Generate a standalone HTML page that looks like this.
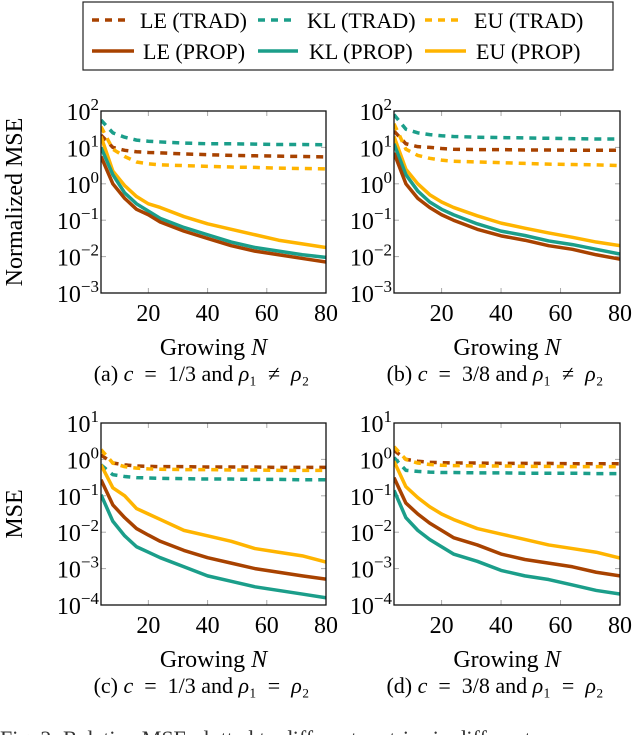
<!DOCTYPE html>
<html><head><meta charset="utf-8"><style>
body{margin:0;background:#fff;width:640px;height:735px;overflow:hidden}
svg{display:block;font-family:"Liberation Serif",serif}
</style></head><body>
<svg id="c" width="640" height="735">
<g>
<rect x="83" y="2" width="530" height="68" fill="#fff" stroke="#222" stroke-width="1.2"/>
<line x1="92" y1="20" x2="128" y2="20" stroke="#a84200" stroke-width="3.5" stroke-dasharray="7,6"/>
<text x="140" y="28" font-size="22">LE (TRAD)</text>
<line x1="258" y1="20" x2="296" y2="20" stroke="#1b9e8a" stroke-width="3.5" stroke-dasharray="7,6"/>
<text x="307" y="28" font-size="22">KL (TRAD)</text>
<line x1="425" y1="20" x2="463" y2="20" stroke="#ffb400" stroke-width="3.5" stroke-dasharray="7,6"/>
<text x="474" y="28" font-size="22">EU (TRAD)</text>
<line x1="92" y1="51" x2="134" y2="51" stroke="#a84200" stroke-width="3.5"/>
<text x="143" y="59" font-size="22">LE (PROP)</text>
<line x1="258" y1="51" x2="298" y2="51" stroke="#1b9e8a" stroke-width="3.5"/>
<text x="309" y="59" font-size="22">KL (PROP)</text>
<line x1="425" y1="51" x2="466" y2="51" stroke="#ffb400" stroke-width="3.5"/>
<text x="476" y="59" font-size="22">EU (PROP)</text>
</g>
<text x="0" y="746" font-size="22" fill="#333">Fig. 2: Relative MSE plotted to different metrics in different</text>
</svg>
<script>
const N=[4,8,12,16,20,24,32,40,48,56,64,72,80];
const xTicks=[20,40,60,80];
// log10 values per panel
const aLEt=[1.34,1.0,0.92,0.88,0.86,0.85,0.82,0.8,0.78,0.77,0.76,0.75,0.74];
const aKLt=[1.75,1.4,1.28,1.2,1.17,1.15,1.12,1.1,1.1,1.09,1.08,1.08,1.07];
const aEUt=[1.57,0.95,0.75,0.6,0.55,0.52,0.5,0.48,0.46,0.45,0.43,0.42,0.41];
const aLEp=[0.75,0.0,-0.4,-0.7,-0.85,-1.05,-1.3,-1.5,-1.7,-1.85,-1.95,-2.05,-2.15];
const aKLp=[1.0,0.25,-0.25,-0.55,-0.75,-0.95,-1.2,-1.4,-1.6,-1.75,-1.85,-1.95,-2.02];
const aEUp=[1.3,0.35,-0.05,-0.35,-0.55,-0.65,-0.9,-1.1,-1.25,-1.4,-1.55,-1.65,-1.75];
const bLEt=[1.45,1.1,1.02,1.0,0.97,0.95,0.94,0.94,0.93,0.93,0.92,0.92,0.92];
const bKLt=[1.9,1.5,1.4,1.35,1.32,1.3,1.28,1.27,1.26,1.25,1.24,1.23,1.23];
const bEUt=[1.65,0.95,0.78,0.7,0.65,0.62,0.6,0.58,0.56,0.54,0.53,0.52,0.5];
const bLEp=[0.85,0.0,-0.4,-0.65,-0.85,-1.0,-1.25,-1.43,-1.55,-1.7,-1.8,-1.95,-2.07];
const bKLp=[1.1,0.25,-0.2,-0.5,-0.7,-0.85,-1.1,-1.3,-1.42,-1.57,-1.67,-1.8,-1.93];
const bEUp=[1.3,0.4,0.0,-0.3,-0.5,-0.65,-0.88,-1.08,-1.22,-1.35,-1.47,-1.6,-1.7];
const cLEt=[0.12,-0.1,-0.15,-0.18,-0.19,-0.2,-0.2,-0.21,-0.21,-0.21,-0.22,-0.22,-0.22];
const cKLt=[-0.15,-0.42,-0.47,-0.5,-0.51,-0.52,-0.53,-0.54,-0.54,-0.55,-0.55,-0.56,-0.56];
const cEUt=[0.27,-0.1,-0.2,-0.24,-0.26,-0.27,-0.28,-0.28,-0.29,-0.29,-0.3,-0.3,-0.3];
const cLEp=[-0.56,-1.25,-1.6,-1.9,-2.08,-2.25,-2.5,-2.7,-2.85,-3.0,-3.1,-3.2,-3.29];
const cKLp=[-0.97,-1.7,-2.1,-2.4,-2.55,-2.7,-2.95,-3.2,-3.35,-3.5,-3.6,-3.7,-3.8];
const cEUp=[-0.15,-0.78,-1.0,-1.35,-1.5,-1.65,-1.95,-2.1,-2.25,-2.45,-2.55,-2.65,-2.82];
const dLEt=[0.25,0.0,-0.05,-0.08,-0.09,-0.1,-0.1,-0.11,-0.11,-0.11,-0.12,-0.12,-0.12];
const dKLt=[0.05,-0.3,-0.33,-0.35,-0.36,-0.36,-0.37,-0.37,-0.38,-0.38,-0.38,-0.39,-0.39];
const dEUt=[0.35,0.0,-0.1,-0.14,-0.16,-0.17,-0.18,-0.18,-0.19,-0.19,-0.2,-0.2,-0.2];
const dLEp=[-0.5,-1.2,-1.5,-1.75,-1.95,-2.15,-2.35,-2.6,-2.75,-2.85,-2.95,-3.1,-3.2];
const dKLp=[-0.85,-1.6,-1.95,-2.2,-2.4,-2.6,-2.8,-3.05,-3.2,-3.3,-3.45,-3.6,-3.7];
const dEUp=[-0.05,-0.75,-1.05,-1.3,-1.5,-1.65,-1.9,-2.05,-2.2,-2.35,-2.45,-2.55,-2.71];

const C={LE:"#a84200",KL:"#1b9e8a",EU:"#ffb400"};
const svg=document.getElementById('c');
const NS="http://www.w3.org/2000/svg";
function mk(tag,attrs,parent){const e=document.createElementNS(NS,tag);for(const k in attrs)e.setAttribute(k,attrs[k]);(parent||svg).appendChild(e);return e;}

function panel(id,x0,x1,y0,y1,ymax,ymin,series,ylabel,caption){
  const g=mk('g',{});
  
  
  const sx=n=>x0+(n-4)/(80-4)*(x1-x0);
  const sy=v=>y0+(ymax-v)/(ymax-ymin)*(y1-y0);
  const clip=mk('clipPath',{id:'cl'+id},g);
  mk('rect',{x:x0,y:y0,width:x1-x0,height:y1-y0},clip);
  for(let e=ymin;e<=ymax;e++){
    const y=sy(e);
    if(e>ymin&&e<ymax){
      mk('line',{x1:x0,y1:y,x2:x0+5,y2:y,stroke:'#aaa','stroke-width':1},g);
      mk('line',{x1:x1-5,y1:y,x2:x1,y2:y,stroke:'#aaa','stroke-width':1},g);
    }
    const t=mk('text',{x:x0-2,y:y+9,'font-size':24,'text-anchor':'end'},g);
    
    
    t.textContent='10';
    const s=mk('tspan',{dy:-10,'font-size':17},t);s.textContent=String(e).replace('-','\u2212');
  }
  xTicks.forEach(n=>{
    const x=sx(n);
    if(n<80){
      mk('line',{x1:x,y1:y1,x2:x,y2:y1-5,stroke:'#aaa','stroke-width':1},g);
      mk('line',{x1:x,y1:y0,x2:x,y2:y0+5,stroke:'#aaa','stroke-width':1},g);
    }
    const t=mk('text',{x:x,y:y1+28,'font-size':24,'text-anchor':'middle'},g);
    
    
    t.textContent=n;
  });
  const pg=mk('g',{'clip-path':'url(#cl'+id+')'},g);
  series.forEach(s=>{
    const p=mk('polyline',{points:N.map((n,i)=>sx(n)+','+sy(s.v[i])).join(' '),fill:'none',stroke:C[s.m],'stroke-width':3.5,'stroke-linejoin':'round','stroke-dasharray':s.d?'7,6':'none'},pg);
    
    
  });
  const fr=mk('rect',{x:x0,y:y0,width:x1-x0,height:y1-y0,fill:'none',stroke:'#111','stroke-width':1.3},g);
  
  
  const xl=mk('text',{x:(x0+x1)/2,y:y1+62,'font-size':24,'text-anchor':'middle'},g);
  
  
  xl.innerHTML='Growing <tspan font-style="italic">N</tspan>';
  const cp=mk('text',{x:(x0+x1)/2-12,y:y1+88,'font-size':22,'text-anchor':'middle'},g);
  
  
  cp.innerHTML=caption;
  if(ylabel){
    const yl=mk('text',{x:0,y:0,'font-size':24,'text-anchor':'middle',transform:'translate(22,'+((y0+y1)/2)+') rotate(-90)'},g);
    
    
    yl.textContent=ylabel;
  }
}
const it=s=>'<tspan font-style="italic">'+s+'</tspan>';
const sp='\u2002';
panel('a',101,326,111,293,2,-3,[{m:'LE',d:1,v:aLEt},{m:'KL',d:1,v:aKLt},{m:'EU',d:1,v:aEUt},{m:'EU',v:aEUp},{m:'KL',v:aKLp},{m:'LE',v:aLEp}],'Normalized MSE','(a) '+it('c')+sp+'='+sp+'1/3 and '+it('ρ')+'₁'+sp+'≠'+sp+it('ρ')+'₂');
panel('b',394,620,111,293,2,-3,[{m:'LE',d:1,v:bLEt},{m:'KL',d:1,v:bKLt},{m:'EU',d:1,v:bEUt},{m:'EU',v:bEUp},{m:'KL',v:bKLp},{m:'LE',v:bLEp}],null,'(b) '+it('c')+sp+'='+sp+'3/8 and '+it('ρ')+'₁'+sp+'≠'+sp+it('ρ')+'₂');
panel('c',101,326,423,605,1,-4,[{m:'KL',d:1,v:cKLt},{m:'LE',d:1,v:cLEt},{m:'EU',d:1,v:cEUt},{m:'EU',v:cEUp},{m:'LE',v:cLEp},{m:'KL',v:cKLp}],'MSE','(c) '+it('c')+sp+'='+sp+'1/3 and '+it('ρ')+'₁'+sp+'='+sp+it('ρ')+'₂');
panel('d',394,620,423,605,1,-4,[{m:'KL',d:1,v:dKLt},{m:'LE',d:1,v:dLEt},{m:'EU',d:1,v:dEUt},{m:'EU',v:dEUp},{m:'LE',v:dLEp},{m:'KL',v:dKLp}],null,'(d) '+it('c')+sp+'='+sp+'3/8 and '+it('ρ')+'₁'+sp+'='+sp+it('ρ')+'₂');
</script>
</body></html>
